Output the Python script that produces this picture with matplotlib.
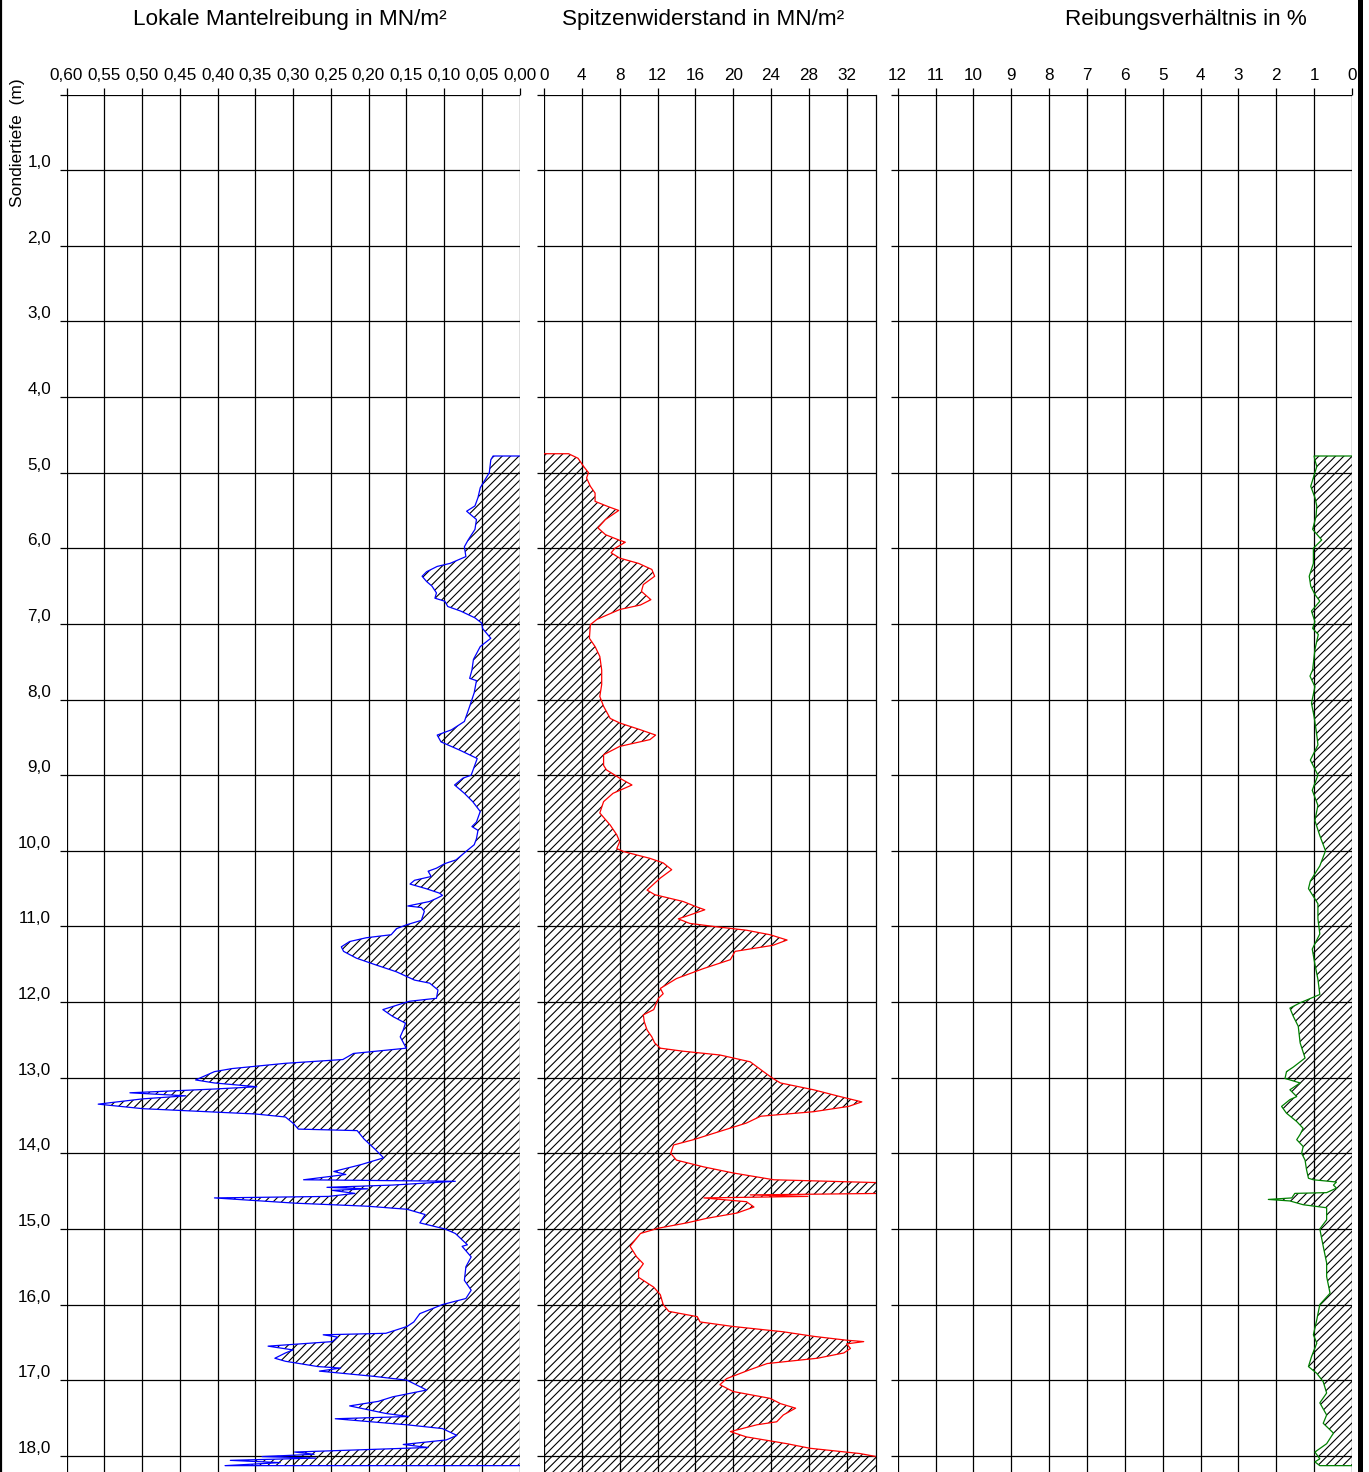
import numpy as np
import matplotlib.pyplot as plt
from matplotlib.lines import Line2D

plt.rcParams['font.family'] = ['Liberation Sans', 'DejaVu Sans']
plt.rcParams['hatch.linewidth'] = 0.8

# Sondierprofil: (Tiefe in m, Messwert)
mantelreibung = [
    (4.78, 0.035), (4.83, 0.038), (5.00, 0.040), (5.20, 0.052), (5.33, 0.055), (5.44, 0.059),
    (5.51, 0.070), (5.56, 0.064), (5.62, 0.057), (5.75, 0.059), (5.89, 0.068), (5.98, 0.073),
    (6.11, 0.071), (6.20, 0.092), (6.24, 0.109), (6.31, 0.123), (6.37, 0.129), (6.44, 0.123),
    (6.50, 0.116), (6.59, 0.110), (6.66, 0.112), (6.70, 0.099), (6.77, 0.095), (6.83, 0.078),
    (6.92, 0.059), (6.99, 0.050), (7.06, 0.049), (7.19, 0.038), (7.30, 0.052), (7.47, 0.061),
    (7.61, 0.063), (7.72, 0.066), (7.75, 0.057), (7.91, 0.060), (8.09, 0.066), (8.29, 0.073),
    (8.40, 0.090), (8.47, 0.109), (8.56, 0.104), (8.67, 0.079), (8.76, 0.060), (8.78, 0.056),
    (8.89, 0.060), (9.00, 0.064), (9.04, 0.075), (9.13, 0.086), (9.24, 0.073), (9.35, 0.062),
    (9.48, 0.052), (9.62, 0.057), (9.68, 0.063), (9.73, 0.055), (9.84, 0.057), (9.92, 0.060),
    (10.01, 0.071), (10.12, 0.084), (10.17, 0.099), (10.23, 0.110), (10.27, 0.121), (10.34, 0.117),
    (10.39, 0.139), (10.44, 0.145), (10.50, 0.124), (10.56, 0.106), (10.59, 0.102), (10.63, 0.110),
    (10.67, 0.119), (10.73, 0.148), (10.75, 0.130), (10.80, 0.126), (10.92, 0.130), (10.98, 0.150),
    (11.03, 0.163), (11.11, 0.170), (11.15, 0.203), (11.20, 0.225), (11.27, 0.236), (11.33, 0.233),
    (11.42, 0.216), (11.51, 0.190), (11.60, 0.163), (11.71, 0.139), (11.75, 0.119), (11.84, 0.108),
    (11.95, 0.110), (11.99, 0.146), (12.10, 0.181), (12.19, 0.168), (12.28, 0.151),
    (12.37, 0.154), (12.46, 0.158), (12.61, 0.150), (12.68, 0.220), (12.76, 0.234), (12.81, 0.310),
    (12.88, 0.381), (12.92, 0.404), (13.03, 0.429), (13.07, 0.404), (13.12, 0.348), (13.15, 0.404),
    (13.20, 0.516), (13.24, 0.442), (13.28, 0.499), (13.35, 0.558), (13.41, 0.499), (13.48, 0.350),
    (13.52, 0.310), (13.61, 0.299), (13.68, 0.293), (13.70, 0.215), (13.81, 0.206), (13.94, 0.192),
    (14.06, 0.180), (14.15, 0.210), (14.24, 0.246), (14.28, 0.230), (14.35, 0.286), (14.37, 0.085),
    (14.42, 0.168), (14.45, 0.255), (14.47, 0.201), (14.49, 0.248), (14.53, 0.218), (14.57, 0.253),
    (14.59, 0.404), (14.66, 0.296), (14.70, 0.201), (14.74, 0.149), (14.81, 0.125), (14.92, 0.132),
    (15.00, 0.099), (15.06, 0.085), (15.21, 0.069), (15.23, 0.076), (15.37, 0.064), (15.50, 0.071),
    (15.68, 0.073), (15.81, 0.064), (15.92, 0.071), (16.00, 0.102), (16.12, 0.132), (16.23, 0.140),
    (16.29, 0.149), (16.38, 0.177), (16.40, 0.260), (16.43, 0.241), (16.49, 0.248), (16.55, 0.333),
    (16.60, 0.300), (16.64, 0.310), (16.71, 0.324), (16.75, 0.310), (16.82, 0.267), (16.84, 0.237),
    (16.88, 0.265), (16.95, 0.192), (17.00, 0.149), (17.13, 0.123), (17.22, 0.168), (17.28, 0.187),
    (17.34, 0.225), (17.42, 0.187), (17.44, 0.177), (17.48, 0.147), (17.51, 0.244), (17.59, 0.149),
    (17.64, 0.102), (17.73, 0.083), (17.79, 0.097), (17.85, 0.154), (17.89, 0.121), (17.95, 0.298),
    (17.98, 0.272), (18.01, 0.341), (18.03, 0.270), (18.06, 0.383), (18.09, 0.317), (18.13, 0.390),
]

spitzendruck = [
    (4.75, 2.6), (4.81, 3.6), (4.92, 4.2), (5.00, 4.7), (5.07, 4.5), (5.18, 4.9), (5.27, 5.4),
    (5.38, 5.4), (5.45, 6.8), (5.50, 7.9), (5.62, 6.5), (5.73, 5.7), (5.82, 6.5), (5.89, 7.9),
    (5.92, 8.6), (6.00, 7.5), (6.06, 7.1), (6.13, 8.0), (6.20, 10.0), (6.28, 11.4), (6.37, 11.7),
    (6.48, 10.5), (6.57, 10.3), (6.68, 11.3), (6.75, 10.2), (6.81, 8.0), (6.94, 5.6), (7.01, 4.9),
    (7.19, 4.8), (7.30, 5.4), (7.43, 5.9), (7.61, 6.1), (7.80, 6.1), (7.96, 5.9), (8.09, 6.3),
    (8.25, 7.0), (8.31, 8.0), (8.40, 10.2), (8.47, 11.8), (8.53, 11.2), (8.62, 8.0), (8.73, 6.3),
    (8.87, 6.3), (8.93, 6.6), (9.04, 8.0), (9.13, 9.3), (9.24, 7.3), (9.35, 6.3), (9.50, 5.9),
    (9.66, 7.0), (9.79, 7.7), (9.88, 8.0), (9.97, 7.7), (10.01, 8.4), (10.10, 11.2), (10.16, 12.6),
    (10.25, 13.5), (10.36, 12.3), (10.52, 10.9), (10.58, 11.7), (10.67, 14.7), (10.74, 16.1),
    (10.78, 17.0), (10.85, 15.4), (10.90, 14.2), (10.96, 15.4), (11.00, 17.9), (11.05, 21.4),
    (11.11, 23.9), (11.18, 25.7), (11.25, 24.2), (11.33, 20.2), (11.44, 19.7), (11.56, 16.8),
    (11.69, 14.0), (11.82, 12.3), (11.89, 12.6), (11.95, 12.1), (12.10, 11.6), (12.17, 10.5),
    (12.26, 10.6), (12.37, 10.9), (12.46, 11.4), (12.54, 11.7), (12.61, 12.3), (12.65, 14.7),
    (12.70, 18.6), (12.79, 21.8), (12.92, 23.2), (13.01, 24.2), (13.07, 25.0), (13.16, 28.5),
    (13.25, 31.3), (13.32, 33.6), (13.38, 32.2), (13.45, 28.5), (13.51, 22.9), (13.60, 21.4),
    (13.71, 18.6), (13.82, 15.8), (13.89, 13.7), (14.00, 13.4), (14.09, 14.0), (14.18, 16.9),
    (14.26, 20.0), (14.35, 24.3), (14.39, 36.0), (14.53, 36.0), (14.55, 21.8), (14.57, 27.9),
    (14.59, 16.9), (14.64, 21.4), (14.71, 22.2), (14.79, 20.4), (14.86, 17.2), (14.92, 15.1),
    (14.99, 12.1), (15.06, 10.2), (15.23, 9.1), (15.37, 9.8), (15.46, 10.5), (15.55, 10.0),
    (15.64, 10.0), (15.77, 11.6), (15.87, 12.3), (16.00, 12.6), (16.09, 13.2), (16.16, 16.2),
    (16.23, 16.5), (16.29, 20.0), (16.36, 25.3), (16.42, 28.5), (16.47, 31.9), (16.49, 33.8),
    (16.52, 32.0), (16.58, 32.4), (16.64, 31.7), (16.71, 28.9), (16.78, 23.6), (16.86, 21.8),
    (16.98, 19.3), (17.06, 18.6), (17.15, 20.0), (17.24, 23.9), (17.31, 25.0), (17.37, 26.6),
    (17.46, 25.3), (17.55, 24.6), (17.59, 22.5), (17.68, 19.7), (17.75, 21.4), (17.84, 25.7),
    (17.90, 28.1), (17.97, 33.4), (18.03, 36.0), (18.30, 36.0),
]

reibungsverhaeltnis = [
    (4.78, 1.00), (4.83, 0.98), (4.92, 0.93), (5.00, 0.98), (5.18, 1.09), (5.33, 0.98), (5.44, 0.93),
    (5.58, 0.95), (5.75, 1.04), (5.89, 0.80), (6.00, 1.02), (6.20, 1.02), (6.37, 1.13), (6.50, 1.09),
    (6.61, 0.98), (6.70, 0.85), (6.83, 1.07), (6.97, 0.98), (7.06, 1.04), (7.14, 0.89), (7.34, 0.98),
    (7.61, 1.04), (7.69, 1.11), (7.83, 0.98), (8.05, 1.07), (8.23, 1.00), (8.40, 0.95), (8.51, 0.92),
    (8.60, 0.90), (8.80, 1.10), (9.00, 0.90), (9.20, 1.05), (9.40, 0.90), (9.60, 0.98), (9.80, 0.85),
    (10.00, 0.70), (10.20, 0.85), (10.40, 1.10), (10.50, 1.15), (10.70, 0.90), (10.90, 0.90),
    (11.10, 0.85), (11.30, 1.05), (11.50, 0.98), (11.70, 0.90), (11.90, 0.85), (12.01, 1.37),
    (12.08, 1.64), (12.19, 1.55), (12.32, 1.42), (12.54, 1.37), (12.74, 1.24), (12.86, 1.55),
    (12.92, 1.73), (13.01, 1.77), (13.07, 1.37), (13.16, 1.64), (13.25, 1.46), (13.29, 1.64),
    (13.38, 1.86), (13.47, 1.73), (13.58, 1.46), (13.67, 1.29), (13.75, 1.37), (13.82, 1.46),
    (13.91, 1.29), (14.00, 1.33), (14.09, 1.24), (14.22, 1.20), (14.33, 1.15), (14.35, 1.02),
    (14.38, 0.41), (14.42, 0.49), (14.46, 0.41), (14.52, 0.67), (14.53, 1.51), (14.59, 1.59),
    (14.61, 2.21), (14.63, 1.64), (14.68, 1.29), (14.72, 0.67), (14.88, 0.67), (15.00, 0.85),
    (15.23, 0.76), (15.45, 0.67), (15.63, 0.67), (15.85, 0.58), (16.00, 0.85), (16.20, 0.93),
    (16.40, 1.02), (16.51, 0.93), (16.69, 1.07), (16.82, 1.15), (16.91, 0.93), (17.02, 0.76),
    (17.17, 0.67), (17.30, 0.85), (17.46, 0.67), (17.57, 0.76), (17.70, 0.49), (17.84, 0.67),
    (17.95, 0.98), (18.04, 0.85), (18.08, 0.98), (18.13, 0.85),
]

fs_ticks = np.arange(0.0, 0.601, 0.05)
qc_ticks = np.arange(0, 33, 4)
rf_ticks = np.arange(0, 13, 1)
depth_ticks = np.arange(0, 19, 1)

W, H = 1369, 1472
fig = plt.figure(figsize=(W / 100, H / 100), dpi=100)

top_px = 94.5
z_max = 18.214


def make_axes(left_px, right_px):
    ax = fig.add_axes([left_px / W, 0, (right_px - left_px) / W, (H - top_px) / H])
    ax.set_ylim(z_max, 0)
    for s in ax.spines.values():
        s.set_visible(False)
    ax.xaxis.tick_top()
    ax.tick_params(axis='both', direction='out', length=5, width=0.9, color='black',
                   labelsize=12.3, pad=3.5)
    ax.tick_params(axis='y', pad=6)
    ax.set_yticks(depth_ticks)
    ax.grid(True, color='black', linewidth=0.9)
    return ax


def profil(ax, data, color):
    z, v = np.array(data).T
    ax.fill_betweenx(z, 0, v, facecolor='none', edgecolor='black', hatch='////', linewidth=0)
    ax.plot(np.r_[0, v, 0], np.r_[z[0], z, z[-1]], color=color, linewidth=0.9)


# Lokale Mantelreibung
ax1 = make_axes(66.5, 519.5)
ax1.set_xlim(0.6, 0)
ax1.set_xticks(fs_ticks)
ax1.set_xticklabels([f'{t:.2f}'.replace('.', ',') for t in fs_ticks])
ax1.set_yticklabels([''] + [f'{d:.1f}'.replace('.', ',') for d in depth_ticks[1:]])
for lab in ax1.get_yticklabels():
    lab.set_verticalalignment('bottom')
profil(ax1, mantelreibung, 'blue')

# Spitzenwiderstand
ax2 = make_axes(544, 876)
ax2.set_xlim(0, 35.1)
ax2.set_xticks(qc_ticks)
ax2.set_yticklabels([])
ax2.spines['right'].set_visible(True)
ax2.spines['right'].set_linewidth(0.9)
profil(ax2, spitzendruck, 'red')

# Reibungsverhaeltnis
ax3 = make_axes(897.7, 1352)
ax3.set_xlim(12, 0)
ax3.set_xticks(rf_ticks)
ax3.set_yticklabels([])
profil(ax3, reibungsverhaeltnis, 'green')

fig.text(290 / W, 1 - 20 / H, 'Lokale Mantelreibung in MN/m²', ha='center', va='center', fontsize=16.2)
fig.text(703 / W, 1 - 20 / H, 'Spitzenwiderstand in MN/m²', ha='center', va='center', fontsize=16.2)
fig.text(1186 / W, 1 - 20 / H, 'Reibungsverhältnis in %', ha='center', va='center', fontsize=16.2)
fig.text(18 / W, 1 - 143 / H, 'Sondiertiefe  (m)', ha='center', va='center', rotation=90, fontsize=12.5)

# Rahmen links und rechts
fig.add_artist(Line2D([1 / W, 1 / W], [0, 1], color='black', linewidth=1.6))
fig.add_artist(Line2D([1359.5 / W, 1359.5 / W], [0, 1], color='black', linewidth=3.6))

fig.savefig('out.png', dpi=100)
